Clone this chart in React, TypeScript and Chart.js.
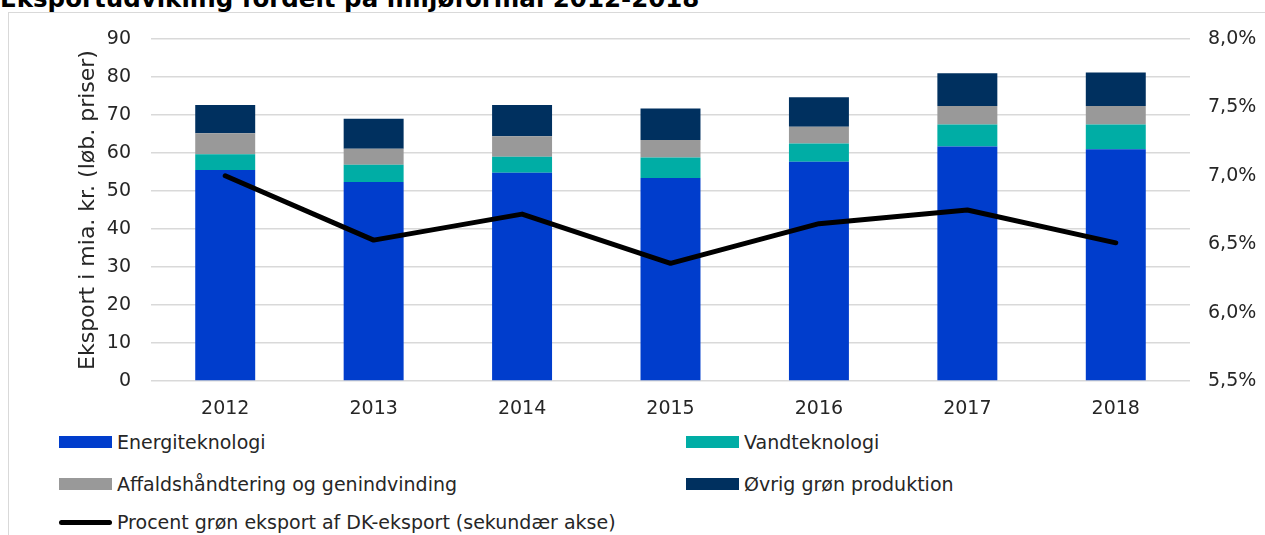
import React, { useEffect, useRef } from "react";
import { Chart, registerables } from "chart.js";

Chart.register(...registerables);

const TITLE = "Eksportudvikling fordelt på miljøformål 2012-2018";
const Y_TITLE = "Eksport i mia. kr. (løb. priser)";
const years = ["2012", "2013", "2014", "2015", "2016", "2017", "2018"];

const energi = [55.5, 52.4, 54.8, 53.4, 57.7, 61.7, 61.0];
const vand = [4.2, 4.5, 4.2, 5.4, 4.8, 5.8, 6.5];
const affald = [5.5, 4.2, 5.4, 4.6, 4.4, 4.9, 4.9];
const oevrig = [7.4, 7.9, 8.2, 8.3, 7.8, 8.6, 8.8];
const procent = [7.0, 6.53, 6.72, 6.36, 6.65, 6.75, 6.51];

const barSeries = [
  { label: "Energiteknologi", data: energi, color: "#003DCC" },
  { label: "Vandteknologi", data: vand, color: "#00ADA5" },
  { label: "Affaldshåndtering og genindvinding", data: affald, color: "#999999" },
  { label: "Øvrig grøn produktion", data: oevrig, color: "#00305F" },
];
const lineLabel = "Procent grøn eksport af DK-eksport (sekundær akse)";

const FONT = "'DejaVu Sans', sans-serif";
const TEXT = "#262626";

export default function App() {
  const ref = useRef<HTMLCanvasElement | null>(null);

  useEffect(() => {
    if (!ref.current) return;
    const chart = new Chart(ref.current, {
      type: "bar",
      data: {
        labels: years,
        datasets: [
          {
            type: "line",
            label: lineLabel,
            data: procent,
            yAxisID: "y1",
            borderColor: "#000000",
            backgroundColor: "#000000",
            borderWidth: 5,
            pointRadius: 0,
            borderCapStyle: "round",
            borderJoinStyle: "round",
            tension: 0,
            order: 0,
          } as any,
          ...barSeries.map((s) => ({
            type: "bar",
            label: s.label,
            data: s.data,
            backgroundColor: s.color,
            borderWidth: 0,
            yAxisID: "y",
            barPercentage: 0.404,
            categoryPercentage: 1.0,
            order: 1,
          })),
        ] as any,
      },
      options: {
        animation: false,
        responsive: false,
        maintainAspectRatio: false,
        layout: { padding: { top: 39, left: 0, right: 0, bottom: 0 } },
        plugins: {
          legend: { display: false },
          tooltip: { enabled: false },
        },
        scales: {
          x: {
            stacked: true,
            grid: { display: false, drawTicks: false },
            border: { display: false },
            ticks: { color: TEXT, font: { family: FONT, size: 19 }, padding: 17 },
            afterFit: (s: any) => {
              s.height = 49;
            },
          },
          y: {
            stacked: true,
            position: "left",
            min: 0,
            max: 90,
            ticks: {
              stepSize: 10,
              color: TEXT,
              font: { family: FONT, size: 19 },
              padding: 20,
            },
            grid: { color: "#d9d9d9", lineWidth: 1.5, drawTicks: false },
            border: { display: false },
            title: {
              display: true,
              text: Y_TITLE,
              color: TEXT,
              font: { family: FONT, size: 22 },
              padding: { top: 75, bottom: 0 },
            },
            afterFit: (s: any) => {
              s.width = 151;
            },
          },
          y1: {
            position: "right",
            min: 5.5,
            max: 8.0,
            ticks: {
              stepSize: 0.5,
              color: TEXT,
              font: { family: FONT, size: 19 },
              padding: 18,
              callback: (v: any) => Number(v).toFixed(1).replace(".", ",") + "%",
            },
            grid: { display: false, drawTicks: false },
            border: { display: false },
            afterFit: (s: any) => {
              s.width = 75;
            },
          },
        },
      } as any,
    });
    return () => chart.destroy();
  }, []);

  const rowY = [442, 484];
  const colX = [59, 686];

  return (
    <div
      style={{
        position: "fixed",
        left: 0,
        top: 0,
        width: 1265,
        height: 535,
        overflow: "hidden",
        background: "#ffffff",
        fontFamily: FONT,
      }}
    >
      <div
        style={{
          position: "absolute",
          left: 8,
          top: 12,
          width: 1300,
          height: 600,
          border: "1px solid #d9d9d9",
          boxSizing: "border-box",
        }}
      />
      <div
        style={{
          position: "absolute",
          left: 0,
          top: -13,
          fontSize: 24.5,
          lineHeight: "24.5px",
          fontWeight: "bold",
          color: "#000",
          whiteSpace: "nowrap",
        }}
      >
        {TITLE}
      </div>
      <canvas
        ref={ref}
        width={1265}
        height={430}
        style={{ position: "absolute", left: 0, top: 0, width: 1265, height: 430 }}
      />
      {barSeries.map((s, i) => {
        const x = colX[i % 2];
        const y = rowY[Math.floor(i / 2)];
        return (
          <div key={s.label}>
            <div
              style={{
                position: "absolute",
                left: x,
                top: y - 6,
                width: 53,
                height: 12,
                background: s.color,
              }}
            />
            <div
              style={{
                position: "absolute",
                left: x + 58,
                top: y - 12,
                fontSize: 19,
                lineHeight: "24px",
                color: TEXT,
                whiteSpace: "nowrap",
              }}
            >
              {s.label}
            </div>
          </div>
        );
      })}
      <div
        style={{
          position: "absolute",
          left: 59,
          top: 520,
          width: 53,
          height: 5,
          borderRadius: 3,
          background: "#000",
        }}
      />
      <div
        style={{
          position: "absolute",
          left: 117,
          top: 510,
          fontSize: 19,
          lineHeight: "24px",
          color: TEXT,
          whiteSpace: "nowrap",
        }}
      >
        {lineLabel}
      </div>
    </div>
  );
}
